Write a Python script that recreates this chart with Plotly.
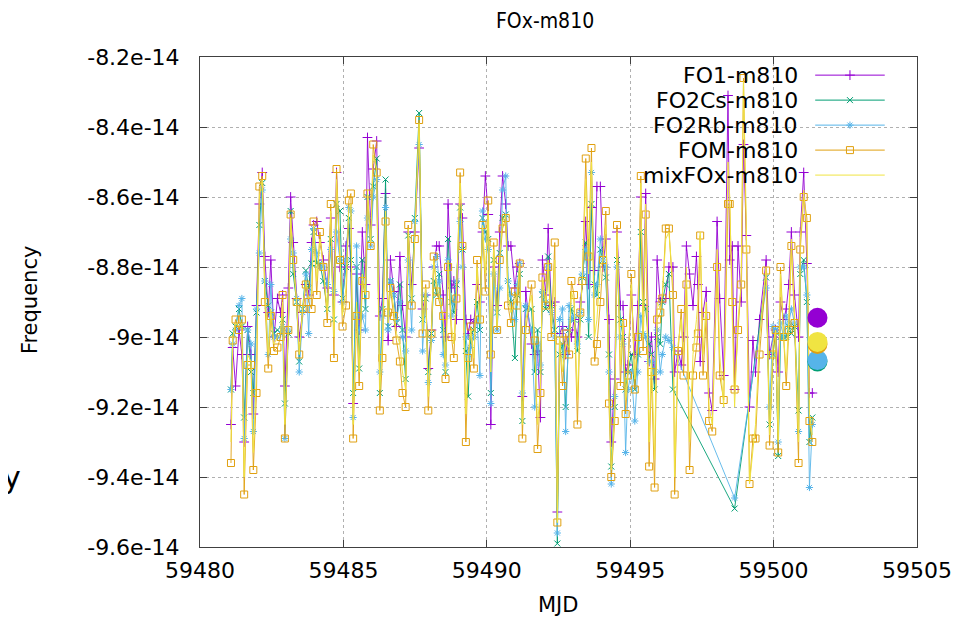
import plotly.graph_objects as go

# ---------------- data (frequency values in units of 1e-14) ----------------
mjd = [
    # A
    59481.08, 59481.14, 59481.24, 59481.36, 59481.46, 59481.54, 59481.66, 59481.78, 59481.86, 59481.97,
    59482.07, 59482.17, 59482.26, 59482.38, 59482.47, 59482.58, 59482.70, 59482.81, 59482.88, 59482.96,
    59483.08, 59483.16, 59483.25, 59483.37, 59483.46, 59483.58, 59483.69, 59483.79, 59483.89, 59483.96,
    59484.07, 59484.18,
    # B
    59484.30, 59484.44, 59484.56, 59484.67, 59484.76, 59484.88, 59484.97, 59485.09, 59485.19, 59485.26,
    59485.34, 59485.46, 59485.55, 59485.66, 59485.77, 59485.84, 59485.95, 59486.04, 59486.16, 59486.27,
    59486.36, 59486.47, 59486.56, 59486.64, 59486.76, 59486.85, 59486.97, 59487.06, 59487.17, 59487.26,
    59487.38, 59487.49, 59487.64, 59487.76,
    # C
    59487.87, 59487.96, 59488.07, 59488.15, 59488.25, 59488.34, 59488.48, 59488.56, 59488.65, 59488.77,
    59488.85, 59488.94, 59489.07, 59489.15, 59489.27, 59489.35, 59489.44, 59489.55, 59489.66, 59489.76,
    59489.85, 59489.95, 59490.05, 59490.14, 59490.24, 59490.36, 59490.45, 59490.55, 59490.66, 59490.74,
    59490.84, 59490.98, 59491.06, 59491.15, 59491.24, 59491.36,
    # D
    59491.56, 59491.67, 59491.77, 59491.87, 59491.94, 59492.06, 59492.14, 59492.25, 59492.37, 59492.46,
    59492.54, 59492.64, 59492.75, 59492.87, 59492.95, 59493.04, 59493.16, 59493.26, 59493.33, 59493.45,
    59493.55, 59493.65, 59493.76, 59493.84, 59493.96, 59494.05, 59494.15, 59494.26, 59494.34, 59494.46,
    59494.54, 59494.66, 59494.75, 59494.84, 59494.92,
    # E
    59495.04, 59495.16, 59495.27, 59495.37, 59495.45, 59495.54, 59495.66, 59495.74, 59495.85, 59495.94,
    59496.05, 59496.12, 59496.24, 59496.35, 59496.49,
    59496.55, 59496.67, 59496.78, 59496.86, 59496.96, 59497.07, 59497.19, 59497.31, 59497.36, 59497.44,
    59497.54, 59497.65, 59497.75, 59497.86, 59498.03, 59498.12,
    # F
    59498.26, 59498.41, 59498.47, 59498.56, 59498.64, 59498.76, 59498.87, 59498.95, 59499.05, 59499.16,
    59499.28, 59499.37, 59499.51, 59499.74, 59499.86, 59499.98, 59500.07, 59500.16, 59500.24, 59500.35,
    59500.44, 59500.53, 59500.62, 59500.73, 59500.87, 59500.93, 59501.05, 59501.16, 59501.25, 59501.35,
]

fo1 = [
    -9.25, -9.03, -9.14, -8.98, -9.05, -9.30, -8.97, -9.05, -9.22, -8.91,
    -8.62, -8.53, -8.77, -8.93, -8.78, -9.00, -8.89, -8.93, -8.88, -9.14,
    -8.86, -8.60, -8.73, -8.89, -9.00, -8.93, -8.85, -8.88, -8.73, -8.68,
    -8.67, -8.73,
    -8.78, -8.86, -8.66, -8.88, -8.53, -8.80, -8.90, -8.74, -8.69, -8.80,
    -9.19, -8.82, -8.98, -8.70, -8.85, -8.43, -8.68, -8.52, -8.44, -8.94,
    -8.89, -8.59, -9.01, -8.78, -8.87, -8.97, -8.77, -8.91, -9.00, -8.70,
    -8.85, -8.70, -8.46, -8.92,
    -8.88, -9.09, -8.98, -8.80, -8.74, -8.74, -8.88, -9.00, -8.62, -8.86,
    -8.84, -8.95, -8.62, -8.66, -8.95, -8.99, -8.95, -8.96, -8.85, -8.90,
    -8.70, -8.54, -8.65, -9.25, -8.80, -8.91, -8.70, -8.54, -8.62, -8.74,
    -8.74, -8.86, -8.80, -8.79, -9.17, -8.87,
    -9.02, -9.05, -9.04, -9.23, -8.78, -8.88, -8.69, -8.91, -8.90, -9.50,
    -8.99, -8.97, -9.05, -8.98, -9.00, -8.95, -9.00, -8.90, -8.85, -8.67,
    -8.85, -8.63, -8.81, -8.57, -8.57, -8.80, -8.72, -8.95, -9.30, -9.12,
    -8.70, -8.91, -8.91, -9.10, -9.08,
    -8.88, -9.05, -8.91, -8.60, -8.91, -8.59, -9.07, -9.00, -9.12, -8.78,
    -8.90, -8.89, -8.89, -8.80, -8.80,
    -9.10, -9.04, -9.08, -9.00, -8.74, -8.82, -8.91, -8.77, -8.85, -9.07,
    -8.93, -8.87, -9.16, -9.21, -8.67, -8.89,
    -9.11, -8.31, -8.78, -8.74, -9.15, -8.74, -8.90, -8.45, -8.71, -9.20,
    -9.01, -9.10, -8.95, -8.78, -9.05, -9.00, -8.98, -9.10, -8.90, -8.95,
    -8.92, -8.85, -8.70, -8.88, -9.00, -8.70, -8.53, -8.79, -9.16, -9.16,
]

fo2cs = [
    -9.15, -8.99, -8.97, -8.92, -8.97, -9.23, -8.98, -9.10, -9.16, -8.93,
    -8.68, -8.56, -8.84, -8.91, -8.93, -8.99, -8.98, -8.99, -8.95, -9.19,
    -8.99, -8.64, -8.82, -8.90, -9.07, -8.92, -8.81, -8.86, -8.79, -8.70,
    -8.79, -8.79,
    -8.84, -8.92, -8.72, -8.95, -8.62, -8.64, -8.89, -8.80, -8.66, -8.78,
    -9.16, -8.80, -9.09, -8.78, -8.92, -8.60, -8.72, -8.57, -8.49, -9.16,
    -8.92, -8.55, -8.97, -8.84, -8.88, -8.96, -8.85, -8.98, -9.12, -8.71,
    -8.89, -8.66, -8.36, -8.95,
    -8.89, -9.10, -8.99, -8.84, -8.88, -8.82, -8.98, -9.10, -8.72, -8.90,
    -8.93, -8.85, -8.63, -8.75, -9.04, -9.17, -9.00, -8.98, -8.90, -8.98,
    -8.66, -8.70, -8.72, -9.16, -8.78, -8.93, -8.76, -8.66, -8.65, -8.84,
    -8.90, -9.06, -8.88, -8.82, -9.24, -8.92,
    -8.92, -9.10, -8.98, -9.10, -8.88, -8.92, -8.77, -8.91, -8.98, -9.59,
    -9.05, -9.02, -9.20, -8.98, -8.92, -8.95, -9.04, -8.95, -8.83, -8.73,
    -9.00, -8.62, -8.85, -8.88, -8.75, -8.78, -8.83, -9.05, -9.37, -9.20,
    -8.78, -8.95, -9.00, -9.15, -9.10,
    -9.05, -9.15, -9.05, -8.70, -8.90, -8.92, -9.02, -9.05, -9.15, -9.00,
    -9.02, -8.90, -8.85, -8.82, -9.15,
    None, None, None, None, None, None, None, None, None, None,
    None, None, None, None, None, None,
    None, None, None, None, -9.49, None, None, None, None, None,
    None, None, None, -8.83, -9.25, -9.05, -8.98, -9.34, -9.00, -9.00,
    -9.00, -8.97, -8.99, -8.97, -9.21, -8.82, -8.78, -8.90, -9.30, -9.23,
]

fo2rb = [
    -9.15, -9.02, -8.98, -8.91, -8.89, -9.29, -8.98, -9.02, -9.27, -8.92,
    -8.76, -8.58, -8.84, -9.05, -8.85, -9.00, -9.00, -8.99, -8.97, -9.29,
    -8.98, -8.72, -8.76, -8.89, -9.10, -8.93, -8.82, -8.99, -8.75, -8.69,
    -8.76, -8.80,
    -8.80, -8.85, -8.75, -8.87, -8.70, -8.78, -8.90, -8.78, -8.63, -8.64,
    -9.23, -8.74, -8.98, -8.94, -8.98, -8.66, -8.74, -8.60, -8.55, -9.10,
    -8.94, -8.63, -8.98, -8.84, -8.88, -8.95, -8.90, -9.00, -9.04, -8.78,
    -8.98, -8.67, -8.45, -9.04,
    -8.88, -9.13, -9.01, -8.80, -8.77, -8.84, -9.05, -9.08, -8.78, -8.94,
    -8.90, -8.84, -8.67, -8.80, -9.00, -9.05, -9.03, -9.00, -8.95, -9.11,
    -8.64, -8.72, -8.75, -9.19, -8.82, -8.98, -8.86, -8.58, -8.54, -8.84,
    -8.88, -8.95, -8.85, -8.79, -9.16, -8.91,
    -8.98, -9.20, -9.02, -9.08, -8.87, -8.90, -8.80, -8.93, -9.00, -9.56,
    -8.95, -8.92, -9.27, -8.91, -8.95, -8.94, -9.02, -8.93, -8.82, -8.75,
    -8.95, -8.53, -8.88, -8.85, -8.72, -8.78, -8.80, -9.10, -9.42, -9.17,
    -8.80, -9.00, -9.02, -9.33, -9.15,
    -9.10, -9.24, -9.10, -8.94, -8.99, -9.00, -9.07, -9.07, -9.10, -8.98,
    -9.10, -9.05, -9.00, -9.01, -9.03,
    None, None, None, None, None, None, None, None, None, None,
    None, None, None, None, None, None,
    None, None, None, None, -9.46, None, None, None, None, None,
    None, None, None, -8.86, -9.20, -8.97, -8.98, -9.30, -8.96, -9.00,
    -8.94, -8.96, -8.92, -8.96, -9.27, -8.80, -8.80, -8.88, -9.43, -9.25,
]

fom = [
    -9.36, -9.01, -8.95, -8.98, -8.95, -9.45, -9.08, -9.08, -9.38, -9.16,
    -8.57, -8.54, -8.90, -9.09, -8.94, -9.04, -9.03, -9.00, -8.88, -9.29,
    -8.98, -8.65, -8.78, -8.90, -9.05, -8.92, -8.85, -8.90, -8.92, -8.67,
    -8.88, -8.70,
    -8.80, -8.96, -8.62, -9.06, -8.52, -8.78, -8.97, -8.91, -8.61, -8.59,
    -9.29, -8.94, -9.14, -8.84, -8.88, -8.59, -8.74, -8.45, -8.53, -9.21,
    -9.06, -8.67, -8.93, -8.86, -8.94, -9.01, -9.07, -9.16, -9.20, -8.68,
    -8.91, -8.72, -8.38, -8.99,
    -8.85, -9.21, -8.99, -8.77, -8.87, -8.90, -8.94, -9.12, -8.80, -9.00,
    -9.06, -8.89, -8.53, -8.74, -9.30, -9.06, -8.97, -9.09, -8.78, -8.95,
    -8.68, -8.87, -8.61, -9.05, -8.73, -8.98, -8.78, -8.69, -8.66, -8.91,
    -8.96, -8.87, -8.91, -8.79, -9.29, -8.98,
    -8.85, -9.01, -9.32, -9.16, -8.83, -8.91, -8.80, -9.00, -8.73, -9.53,
    -9.01, -9.14, -8.99, -9.05, -8.84, -8.88, -9.25, -8.93, -8.84, -8.49,
    -8.77, -8.46, -9.07, -9.02, -8.90, -8.78, -8.64, -9.19, -9.40, -9.24,
    -8.68, -9.14, -8.96, -9.22, -9.11,
    -8.82, -9.15, -9.00, -8.54, -9.04, -8.65, -9.37, -9.10, -9.43, -8.95,
    -8.93, -8.89, -8.69, -8.69, -8.88,
    -9.45, -9.04, -8.92, -9.11, -8.85, -9.38, -9.11, -9.03, -8.99, -8.71,
    -9.11, -8.94, -9.24, -9.27, -8.80, -9.11,
    -9.18, -8.62, -8.62, -8.90, -9.15, -8.98, -8.85, -8.26, -8.75, -9.42,
    -9.29, -9.29, -9.05, -8.81, -9.31, -9.05, -8.98, -9.33, -8.80, -9.00,
    -9.14, -8.98, -8.74, -8.96, -9.36, -8.75, -8.60, -8.66, -9.24, -9.30,
]

mixfox = [
    -9.30, -9.00, -8.96, -8.97, -8.96, -9.40, -9.05, -9.07, -9.33, -9.10,
    -8.60, -8.55, -8.86, -9.05, -8.92, -9.02, -9.00, -8.99, -8.90, -9.25,
    -8.97, -8.66, -8.78, -8.90, -9.05, -8.92, -8.84, -8.89, -8.88, -8.68,
    -8.84, -8.72,
    -8.80, -8.93, -8.64, -9.00, -8.55, -8.78, -8.94, -8.86, -8.63, -8.62,
    -9.25, -8.90, -9.10, -8.82, -8.88, -8.58, -8.73, -8.48, -8.52, -9.15,
    -9.02, -8.64, -8.96, -8.85, -8.92, -8.99, -9.02, -9.10, -9.15, -8.69,
    -8.90, -8.71, -8.39, -8.98,
    -8.86, -9.17, -8.99, -8.78, -8.85, -8.88, -8.95, -9.10, -8.78, -8.97,
    -9.02, -8.88, -8.56, -8.73, -9.22, -9.06, -8.98, -9.06, -8.80, -8.96,
    -8.68, -8.82, -8.64, -9.10, -8.75, -8.97, -8.77, -8.67, -8.65, -8.88,
    -8.93, -8.90, -8.88, -8.79, -9.25, -8.95,
    -8.88, -9.04, -9.25, -9.15, -8.83, -8.90, -8.78, -8.97, -8.78, -9.53,
    -9.00, -9.10, -9.02, -9.03, -8.87, -8.90, -9.18, -8.93, -8.84, -8.55,
    -8.82, -8.50, -9.00, -8.95, -8.80, -8.78, -8.68, -9.15, -9.38, -9.22,
    -8.70, -9.08, -8.95, -9.18, -9.10,
    -8.85, -9.12, -8.98, -8.56, -9.00, -8.62, -9.30, -9.05, -9.35, -8.90,
    -8.92, -8.88, -8.72, -8.70, -8.85,
    -9.40, -9.02, -8.95, -9.05, -8.80, -9.30, -9.05, -8.95, -8.90, -8.70,
    -9.05, -8.90, -9.20, -9.25, -8.75, -9.05,
    -9.20, -8.50, -8.60, -8.95, -9.20, -8.95, -8.85, -8.27, -8.68, -9.42,
    -9.32, -9.25, -9.00, -8.80, -9.28, -9.02, -8.98, -9.30, -8.82, -9.00,
    -9.10, -8.95, -8.72, -8.93, -9.30, -8.72, -8.58, -8.70, -9.22, -9.28,
]

# single summary points drawn as large dots at the right end
summary_mjd = 59501.53
summary_vals = {"FO2Cs": -9.07, "FO2Rb": -9.066, "FOM": -9.02, "mixFOx": -9.014, "FO1": -8.945}

series_names = ["FO1-m810", "FO2Cs-m810", "FO2Rb-m810", "FOM-m810", "mixFOx-m810"]
ytick_vals = [-8.2, -8.4, -8.6, -8.8, -9.0, -9.2, -9.4, -9.6]
ytick_text = ["-8.2e-14", "-8.4e-14", "-8.6e-14", "-8.8e-14", "-9e-14", "-9.2e-14", "-9.4e-14", "-9.6e-14"]
xtick_vals = [59480, 59485, 59490, 59495, 59500, 59505]

for arr in (fo1, fo2cs, fo2rb, fom, mixfox):
    assert len(arr) == len(mjd), len(arr)

SCALE = 1e-14


def sc(vals):
    return [None if v is None else v * SCALE for v in vals]


PURPLE = "#9400d3"
GREEN = "#009e73"
BLUE = "#56b4e9"
ORANGE = "#e0a010"
YELLOW = "#f0e442"
FONT = "DejaVu Sans"

styles = [
    (fo1, PURPLE, "cross-thin", 7),
    (fo2cs, GREEN, "x-thin", 6),
    (fo2rb, BLUE, "asterisk", 6),
    (fom, ORANGE, "square-open", 7),
    (mixfox, YELLOW, None, 0),
]

fig = go.Figure()

for (vals, col, sym, size), name in zip(styles, series_names):
    if sym is None:
        fig.add_trace(go.Scatter(x=mjd, y=sc(vals), mode="lines", name=name,
                                 line=dict(color=col, width=1), connectgaps=True,
                                 showlegend=False))
    else:
        fig.add_trace(go.Scatter(x=mjd, y=sc(vals), mode="lines+markers", name=name,
                                 line=dict(color=col, width=0.9), connectgaps=True,
                                 marker=dict(symbol=sym, size=size, color=col,
                                             line=dict(color=col, width=1)),
                                 showlegend=False))

# big summary dots
dot_order = [("FO2Cs", GREEN), ("FO2Rb", BLUE), ("FOM", ORANGE), ("mixFOx", YELLOW), ("FO1", PURPLE)]
for key, col in dot_order:
    fig.add_trace(go.Scatter(x=[summary_mjd], y=[summary_vals[key] * SCALE], mode="markers",
                             marker=dict(size=20, color=col, line=dict(width=0)),
                             showlegend=False, cliponaxis=False))

# gnuplot-style key (text left, sample right) on an overlay axis
key_rows = [0.963, 0.912, 0.861, 0.810, 0.759]
key_x0, key_x1, key_xm, key_text_x = 0.858, 0.955, 0.9065, 0.837
for (vals, col, sym, size), name, yy in zip(styles, series_names, key_rows):
    fig.add_trace(go.Scatter(x=[key_x0, key_x1], y=[yy, yy], mode="lines",
                             line=dict(color=col, width=1), xaxis="x2", yaxis="y2",
                             showlegend=False, hoverinfo="skip"))
    if sym is not None:
        fig.add_trace(go.Scatter(x=[key_xm], y=[yy], mode="markers",
                                 marker=dict(symbol=sym, size=size, color=col,
                                             line=dict(color=col, width=1)),
                                 xaxis="x2", yaxis="y2", showlegend=False, hoverinfo="skip"))
    fig.add_annotation(x=key_text_x, y=yy, xref="paper", yref="paper", text=name,
                       showarrow=False, xanchor="right", yanchor="middle",
                       font=dict(family=FONT, size=22, color="black"))

# opaque key area hides the grid lines
fig.add_shape(type="rect", xref="paper", yref="paper", x0=0.589, x1=0.979, y0=0.73, y1=0.998,
              fillcolor="white", line=dict(width=0), layer="between")

# axis titles
fig.add_annotation(x=0.4993, y=-0.118, xref="paper", yref="paper", text="MJD", showarrow=False,
                   xanchor="center", yanchor="middle", font=dict(family=FONT, size=21, color="black"))
fig.add_annotation(x=-0.237, y=0.504, xref="paper", yref="paper", text="Frequency", showarrow=False,
                   textangle=-90, xanchor="center", yanchor="middle",
                   font=dict(family=FONT, size=21, color="black"))

# stray partly-visible glyph at the far left edge
fig.add_annotation(x=-0.262, y=0.141, xref="paper", yref="paper", text="y", showarrow=False,
                   xanchor="center", yanchor="middle", font=dict(family=FONT, size=30, color="black"))

axis_common = dict(showline=True, linecolor="#404040", linewidth=1, mirror="allticks",
                   ticks="inside", ticklen=7, tickcolor="#404040", automargin=False,
                   showgrid=True, gridcolor="#b0b0b0", griddash="dot", gridwidth=1,
                   zeroline=False, tickfont=dict(family=FONT, size=22, color="black"))

# the page body adds an 8px offset, so the figure is 8px smaller and margins shifted
fig.update_layout(
    width=966, height=611,
    margin=dict(l=192, r=57, t=49, b=72, autoexpand=False),
    paper_bgcolor="white", plot_bgcolor="white",
    title=dict(text="FOx-m810", x=0.556, xanchor="center", y=0.979, yanchor="middle",
               font=dict(family="DejaVu Sans Condensed", size=21, color="black")),
    showlegend=False,
    xaxis=dict(range=[59480, 59505], tickvals=xtick_vals, ticktext=[str(v) for v in xtick_vals],
               ticklabelstandoff=4, **axis_common),
    yaxis=dict(range=[-9.6 * SCALE, -8.2 * SCALE], tickvals=[v * SCALE for v in ytick_vals],
               ticktext=ytick_text, ticklabelstandoff=15, **axis_common),
    xaxis2=dict(overlaying="x", range=[0, 1], visible=False, fixedrange=True, automargin=False),
    yaxis2=dict(overlaying="y", range=[0, 1], visible=False, fixedrange=True, automargin=False),
)

fig.write_html("out.html")
